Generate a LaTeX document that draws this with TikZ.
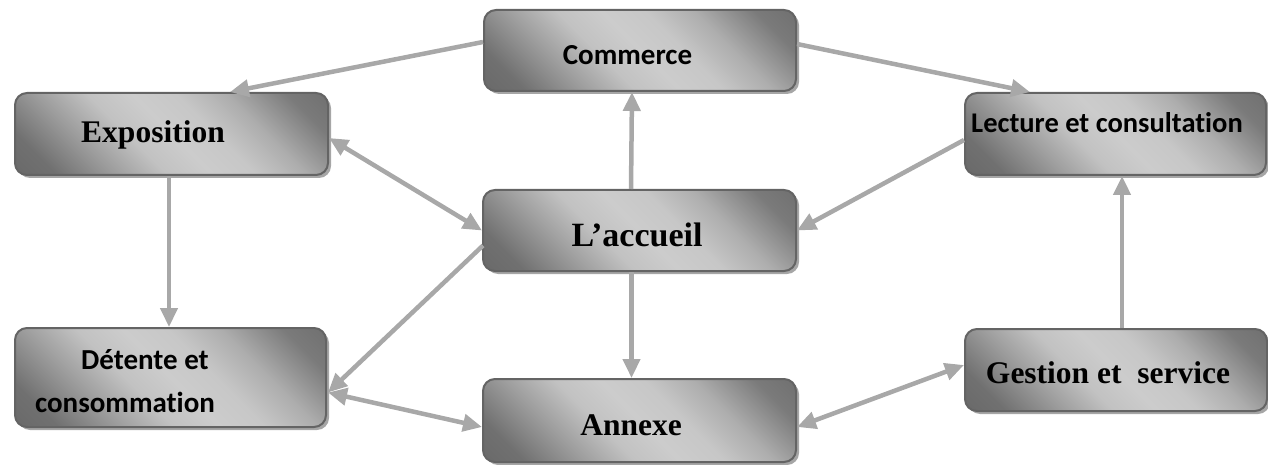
\documentclass[tikz,border=0pt]{standalone}
\usepackage{fontspec}
\newfontfamily\tnrfont{Liberation Serif}
\newfontfamily\calfont{Carlito}[Ligatures=NoCommon]
\usetikzlibrary{arrows.meta,shadows,calc}
\definecolor{arrowgray}{HTML}{A8A8A8}
\definecolor{bordergray}{HTML}{646464}
\pgfdeclarehorizontalshading{boxshade}{100bp}{color(0bp)=(black!64); color(22bp)=(black!56); color(33bp)=(black!38); color(42bp)=(black!24); color(50bp)=(black!20); color(58bp)=(black!22); color(67bp)=(black!32); color(78bp)=(black!52); color(100bp)=(black!64)}
\tikzset{
  box/.style={draw=bordergray, line width=2pt, rounded corners=12pt,
    shading=boxshade, shading angle=45,
    drop shadow={shadow xshift=3pt, shadow yshift=-3pt, fill=black!35, opacity=1},
    inner sep=0pt},
  serif/.style={font=\tnrfont\bfseries\fontsize{31.5}{36}\selectfont, inner sep=0pt},
  sans/.style={font=\calfont\bfseries\fontsize{29}{42}\selectfont, inner sep=0pt},
  conn/.style={draw=arrowgray, line width=4.5pt, -{Triangle[length=19pt,width=17pt]}},
  bconn/.style={draw=arrowgray, line width=4.5pt, {Triangle[length=19pt,width=17pt]}-{Triangle[length=19pt,width=17pt]}},
}
\begin{document}
\begin{tikzpicture}[x=1pt,y=-1pt]
\useasboundingbox (0,0) rectangle (1268,465);
% boxes
\node[box, minimum width=313pt, minimum height=82pt] (exp) at (171.5,134) {};
\node[box, minimum width=312pt, minimum height=81pt] (com) at (640,50.5) {};
\node[box, minimum width=301pt, minimum height=82pt] (lec) at (1115.5,134) {};
\node[box, minimum width=313pt, minimum height=81pt] (acc) at (639.5,230.5) {};
\node[box, minimum width=311pt, minimum height=99pt] (det) at (170.5,377.5) {};
\node[box, minimum width=313pt, minimum height=83pt] (ann) at (639.5,420.5) {};
\node[box, minimum width=302pt, minimum height=82pt] (ges) at (1116,370) {};
% texts
\node[serif] (expT) at (153,135) {Exposition};
\node[sans] (comT) at (627.5,55) {Commerce};
\node[sans, font=\calfont\bfseries\fontsize{28.5}{32}\selectfont] (lecT) at (1107,123) {Lecture et consultation};
\node[serif, font=\tnrfont\bfseries\fontsize{34}{40}\selectfont] (accT) at (637,235) {L’accueil};
\node[sans] (detA) at (145,360) {Détente et};
\node[sans] (detB) at (125,402) {consommation};
\node[serif] (annT) at (631,425) {Annexe};
\node[serif] (gesT) at (1108,373) {Gestion et\ \ service};
% connectors
\draw[conn] ($(com.west)+(0,-8.5)$) -- ($(exp.north)+(58.5,0)$);
\draw[conn] ($(com.east)+(0,-6.5)$) -- ($(lec.north)+(-85.5,0)$);
\draw[conn] ($(acc.north)+(-8.5,0)$) -- ($(com.south)+(-8,0)$);
\draw[bconn] ($(exp.east)+(0,4)$) -- (acc.west);
\draw[conn] ($(lec.west)+(0,6)$) -- (acc.east);
\draw[conn] ($(exp.south)+(-2.5,0)$) -- ($(det.north)+(-1.5,0)$);
\draw[conn] ($(acc.west)+(1,15)$) -- ($(det.east)+(1,15)$);
\draw[conn] ($(acc.south)+(-8,0)$) -- ($(ann.north)+(-8,0)$);
\draw[bconn] ($(det.east)+(1,15)$) -- ($(ann.west)+(0,6.5)$);
\draw[bconn] ($(ann.east)+(0,6.5)$) -- ($(ges.west)+(0,-5)$);
\draw[conn] ($(ges.north)+(6,0)$) -- ($(lec.south)+(6.5,0)$);
\end{tikzpicture}
\end{document}
